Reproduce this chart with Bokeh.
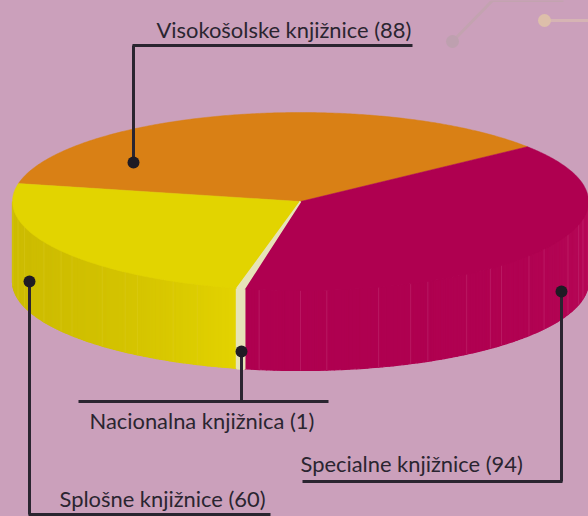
import math
from bokeh.plotting import figure
from bokeh.embed import file_html
from bokeh.resources import INLINE
from bokeh.core.properties import value

# --- data ---
categories = ["Visokošolske knjižnice", "Splošne knjižnice", "Nacionalna knjižnica", "Specialne knjižnice"]
values = [88, 60, 1, 94]
top_colors = ["#D98015", "#E2D400", "#E6E3B8", "#AF0050"]
wall_left = ["#D98015", "#CDBC00", "#E6E3B8", "#AF0050"]
wall_right = ["#D98015", "#E3D300", "#E6E3B8", "#B80A58"]
seam_colors = ["#D98015", "#E0D030", "#E6E3B8", "#D0508A"]
seam_steps = [4, 11, 7, 14, 9, 5, 12, 8]

# --- label leaders: text, text x, text y, dot x, dot y, rule y, rule start x, rule end x ---
labels = [
    ("Visokošolske knjižnice (88)", 156, 29, 133, 162, 45, 132, 412),
    ("Nacionalna knjižnica (1)", 89, 420, 241, 351, 401, 78, 328),
    ("Specialne knjižnice (94)", 300, 463, 561, 291, 481, 302, 562),
    ("Splošne knjižnice (60)", 59, 498, 29, 281, 514, 28, 270),
]
BG = "#CBA0BB"
INK = "#2A2530"
CX, CY, RX, RY, DEPTH = 300, 201, 288, 89, 80
START_DEG = 38.0

W, H = 588, 516
p = figure(width=W, height=H, x_range=(0, W), y_range=(H, 0), output_backend="svg",
           toolbar_location=None, min_border=0, background_fill_color=BG,
           border_fill_color=BG, outline_line_color=None)
p.axis.visible = False
p.grid.visible = False

# faint decoration at the top right
p.line([452, 492, 563], [41, 0, 0], line_color="#C3A3B0", line_width=3)
p.line([544, 588], [20, 20], line_color="#D6B4B4", line_width=3)
p.scatter([452], [41], size=13, color="#BEA0AF", line_color=None)
p.scatter([544], [20], size=13, color="#DDBFAA", line_color=None)


def pt(a, dy=0.0):
    r = math.radians(a)
    return CX + RX * math.cos(r), CY - RY * math.sin(r) + dy


def mix(c1, c2, t):
    a = [int(c1[i:i + 2], 16) for i in (1, 3, 5)]
    b = [int(c2[i:i + 2], 16) for i in (1, 3, 5)]
    return "#%02X%02X%02X" % tuple(round(x + (y - x) * t) for x, y in zip(a, b))


total = sum(values)
spans = []
a = START_DEG
for v in values:
    spans.append((a, a + v / total * 360))
    a += v / total * 360

# walls: front half only, faceted, left to right; the thin slice goes last
order = [1, 3, 2]
for k in order:
    a0, a1 = spans[k]
    s, e = max(a0, 180), min(a1, 360)
    n = max(1, int((e - s) / 0.75))
    xs, ys, fills = [], [], []
    for i in range(n):
        f0 = s + (e - s) * i / n
        f1 = s + (e - s) * (i + 1) / n
        x0, y0 = pt(f0)
        x1, y1 = pt(f1)
        xs.append([x0, x1, x1, x0])
        ys.append([y0, y1, y1 + DEPTH, y0 + DEPTH])
        fills.append(mix(wall_left[k], wall_right[k], ((i + 0.5) / n) ** 3))
    lw = 2.4 if k == 2 else 1.2
    p.patches(xs, ys, fill_color=fills, line_color=fills, line_width=lw)
    if k != 2:
        i, j = 0, 0
        while True:
            i += seam_steps[j % len(seam_steps)]
            j += 1
            if i >= n:
                break
            x, y = pt(s + (e - s) * i / n)
            p.line([x, x], [y, y + DEPTH], line_color=seam_colors[k], line_width=0.8, line_alpha=0.4)

# top wedges
for k in [0, 3, 1, 2]:
    a0, a1 = spans[k]
    c = top_colors[k]
    n = max(2, int(a1 - a0) * 2)
    pts = [pt(a0 + (a1 - a0) * i / n) for i in range(n + 1)]
    p.patch([CX] + [q[0] for q in pts], [CY] + [q[1] for q in pts], fill_color=c, line_color=c,
            line_width=1.6 if k == 2 else 0.5)

# leaders
for text, tx, ty, dx, dy, ry, r0, r1 in labels:
    p.line([dx, dx], [dy, ry], line_color=INK, line_width=3)
    p.line([r0, r1], [ry, ry], line_color=INK, line_width=3)
    p.scatter([dx], [dy], size=12, color="#1F1B24", line_color=None)
    p.text([tx], [ty], text=[text], text_font=value("Lato"), text_font_size="21.9px",
           text_color=INK, text_baseline="middle", text_align="left")

html = file_html(p, INLINE)
html = html.replace("<head>", "<head><style>html,body{margin:0;padding:0;overflow:hidden;background:%s}</style>" % BG, 1)
open("out.html", "w").write(html)
